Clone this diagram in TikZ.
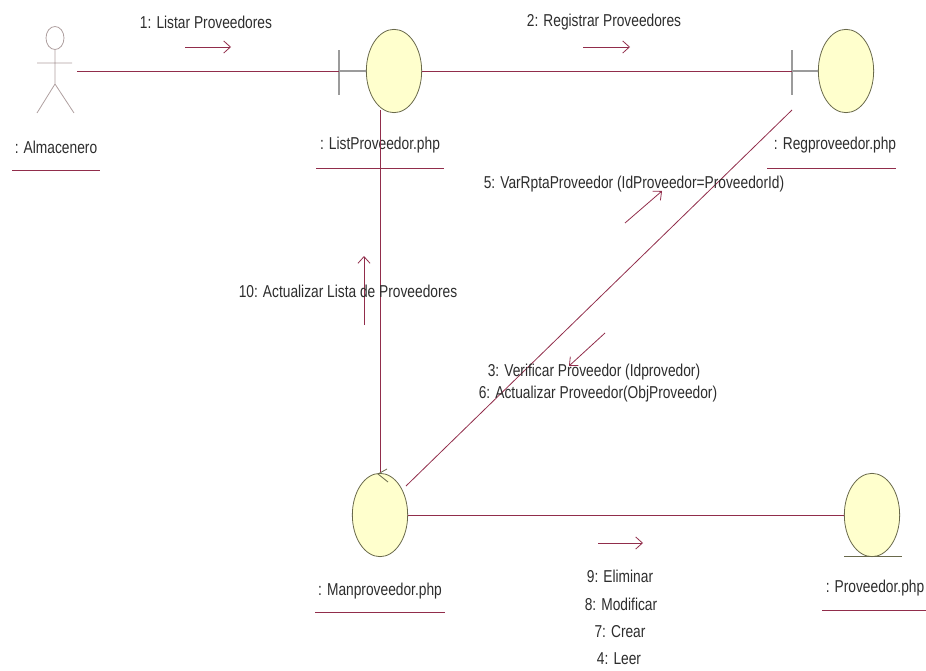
\documentclass[tikz,border=0pt]{standalone}
\usepackage{fontspec}
\setmainfont[FakeStretch=0.8]{Liberation Sans}
\usetikzlibrary{shapes.geometric,arrows.meta}
\definecolor{linkc}{RGB}{145,45,75}
\definecolor{ellfill}{RGB}{255,255,205}
\definecolor{elldraw}{RGB}{105,105,75}
\definecolor{barc}{RGB}{155,155,155}
\definecolor{actc}{RGB}{175,160,160}
\definecolor{txtc}{RGB}{45,45,45}
\tikzset{
  obj/.style={ellipse, draw=elldraw, fill=ellfill, line width=0.6pt, minimum width=41.5pt, minimum height=62.5pt, inner sep=0pt},
  link/.style={draw=linkc, line width=0.6pt},
  gline/.style={draw=barc, line width=0.8pt},
  msg/.style={draw=linkc, line width=0.6pt, -{Straight Barb[length=5pt,width=9pt]}},
  lbl/.style={text=txtc, font=\fontsize{12.9}{15}\selectfont, inner sep=0pt},
  uline/.style={draw=linkc, line width=0.6pt},
}
\begin{document}
\begin{tikzpicture}[x=0.75pt,y=-0.75pt]
\useasboundingbox (0,0) rectangle (926,671);
% actor
\draw[actc, line width=0.6pt] (55,38) ellipse [x radius=9, y radius=11.5];
\draw[actc, line width=0.6pt] (55,50) -- (55,84) (37,63) -- (72,63) (55,84) -- (37,113) (55,84) -- (74,113);
\coordinate (actorR) at (77,71);
\node[lbl] (almL) at (56,147) {: Almacenero};
\draw[uline] (12,170) -- (100,170);
% ListProveedor (boundary)
\node[obj] (list) at (394,71) {};
\coordinate (listbar) at (339,71);
\draw[gline] (339,50) -- (339,95);
\draw[gline] (listbar) -- (list.west);
\node[lbl] (listL) at (380,145) {: ListProveedor.php};
\draw[uline] (316,168) -- (444,168);
% Regproveedor (boundary)
\node[obj] (reg) at (846,71) {};
\coordinate (regbar) at (792,71);
\draw[gline] (792,50) -- (792,95);
\draw[gline] (regbar) -- (reg.west);
\node[lbl] (regL) at (835,145) {: Regproveedor.php};
\draw[uline] (767,168) -- (896,168);
% Manproveedor (control)
\node[obj] (man) at (380,515) {};
\draw[elldraw, line width=0.6pt] (387,469) -- (378,474) -- (388,482);
\node[lbl] (manL) at (380,591) {: Manproveedor.php};
\draw[uline] (315,612) -- (445,612);
% Proveedor (entity)
\node[obj] (prov) at (872,515) {};
\draw[elldraw, line width=0.7pt] (844,556) -- (902,556);
\node[lbl] (provL) at (875,588) {: Proveedor.php};
\draw[uline] (822,610) -- (926,610);
% links
\draw[link] (actorR) -- (listbar);
\draw[link] (list.east) -- (regbar);
\coordinate (listdown) at (380,110);
\coordinate (mantop) at (380,472);
\draw[link] (listdown) -- (mantop);
\coordinate (regdiag) at (792,110);
\coordinate (mandiag) at (406,486);
\draw[link] (regdiag) -- (mandiag);
\draw[link] (man.east) -- (prov.west);
% messages
\coordinate (m1a) at (185,47); \coordinate (m1b) at (231,47);
\draw[msg] (m1a) -- (m1b);
\node[lbl] (m1) at (206,22) {1: Listar Proveedores};
\coordinate (m2a) at (583,47); \coordinate (m2b) at (630,47);
\draw[msg] (m2a) -- (m2b);
\node[lbl] (m2) at (604,22) {2: Registrar Proveedores};
\coordinate (m5a) at (625,223); \coordinate (m5b) at (662,191);
\draw[msg] (m5a) -- (m5b);
\node[lbl] (m5) at (634,184) {5: VarRptaProveedor (IdProveedor=ProveedorId)};
\coordinate (m10a) at (364,325); \coordinate (m10b) at (364,256);
\draw[msg] (m10a) -- (m10b);
\node[lbl] (m10) at (348,291) {10: Actualizar Lista de Proveedores};
\coordinate (m3a) at (605,333); \coordinate (m3b) at (569,366);
\draw[msg] (m3a) -- (m3b);
\node[lbl] (m3) at (594,372) {3: Verificar Proveedor (Idprovedor)};
\node[lbl] (m6) at (598,394) {6: Actualizar Proveedor(ObjProveedor)};
\coordinate (m9a) at (598,543); \coordinate (m9b) at (643,543);
\draw[msg] (m9a) -- (m9b);
\node[lbl] (m9) at (620,576) {9: Eliminar};
\node[lbl] (m8) at (621,604) {8: Modificar};
\node[lbl] (m7) at (620,632) {7: Crear};
\node[lbl] (m4) at (619,659) {4: Leer};
\end{tikzpicture}
\end{document}
